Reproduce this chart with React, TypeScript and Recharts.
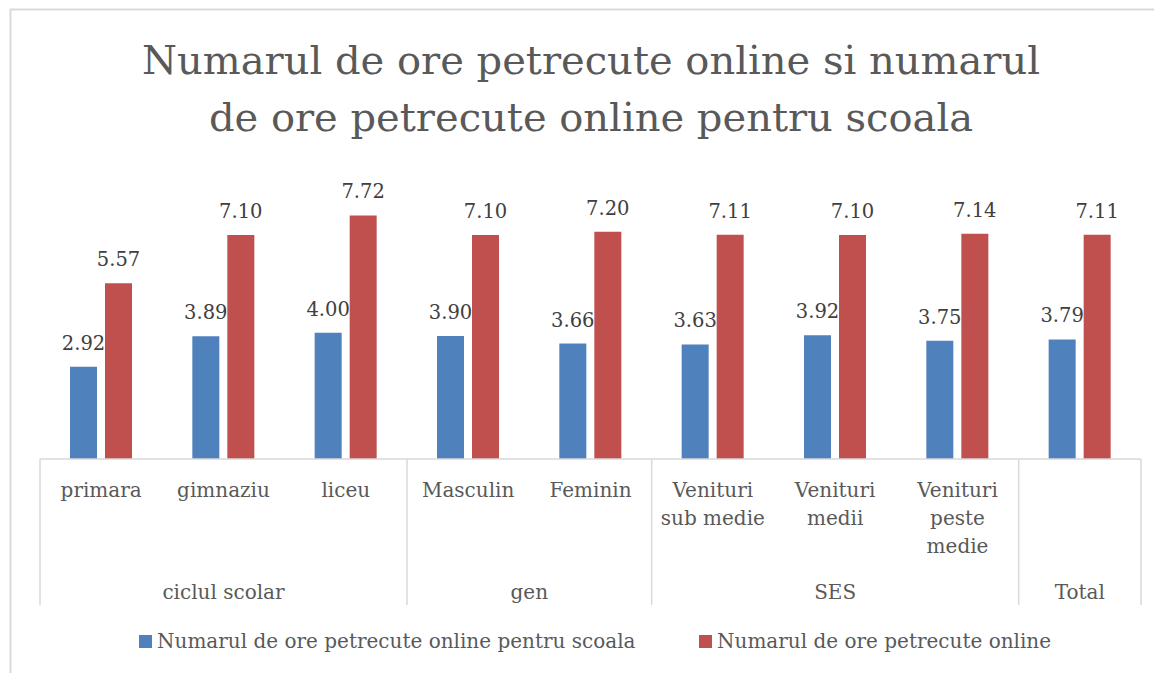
import React from "react"
import { BarChart, Bar, XAxis, YAxis, LabelList } from "recharts"

// categorii (nivelul 1), fiecare pe mai multe randuri
const categorii = [
  "primara",
  "gimnaziu",
  "liceu",
  "Masculin",
  "Feminin",
  "Venituri|sub medie",
  "Venituri|medii",
  "Venituri|peste|medie",
  "",
]
// grupuri (nivelul 2) si cate categorii contin
const grupuri = ["ciclul scolar", "gen", "SES", "Total"]
const marimiGrupuri = [3, 2, 3, 1]

const oreScoala = [2.92, 3.89, 4.0, 3.9, 3.66, 3.63, 3.92, 3.75, 3.79]
const oreOnline = [5.57, 7.1, 7.72, 7.1, 7.2, 7.11, 7.1, 7.14, 7.11]

const serii = [
  "Numarul de ore petrecute online pentru scoala",
  "Numarul de ore petrecute online",
]

const W = 1154
const H = 673
const MARGINE = { top: 175, right: 13, left: 40, bottom: 68 }
const INALT_CAT = 100
const INALT_GRUP = 46
const LATIME_BANDA = (W - MARGINE.left - MARGINE.right) / categorii.length

const FONT = "'DejaVu Serif', serif"
const GRI = "#595959"
const LINIE = "#d9d9d9"
const ALBASTRU = "#4F81BD"
const ROSU = "#C0504D"

const date = categorii.map((c, i) => ({
  cat: String(i),
  eticheta: c,
  scoala: oreScoala[i],
  online: oreOnline[i],
}))

// inceputul fiecarui grup
const starturi: number[] = []
marimiGrupuri.reduce((acc, m) => {
  starturi.push(acc)
  return acc + m
}, 0)

const TickCategorie = (props: any) => {
  const { x, y, payload } = props
  const idx = Number(payload.value)
  const linii = categorii[idx] ? categorii[idx].split("|") : []
  return (
    <g>
      {linii.map((l, k) => (
        <text
          key={k}
          x={x}
          y={y + 38 + k * 28}
          textAnchor="middle"
          fontFamily={FONT}
          fontSize={20}
          fill={GRI}
        >
          {l}
        </text>
      ))}
    </g>
  )
}

const TickGrup = (props: any) => {
  const { x, y, payload } = props
  const idx = Number(payload.value)
  const g = starturi.indexOf(idx)
  const sus = y - INALT_CAT
  const jos = y + INALT_GRUP
  const ultim = idx === categorii.length - 1
  return (
    <g>
      {g >= 0 && (
        <>
          <line x1={x - LATIME_BANDA / 2} x2={x - LATIME_BANDA / 2} y1={sus} y2={jos} stroke={LINIE} strokeWidth={1.5} />
          <text
            x={x + ((marimiGrupuri[g] - 1) * LATIME_BANDA) / 2}
            y={y + 40}
            textAnchor="middle"
            fontFamily={FONT}
            fontSize={20}
            fill={GRI}
          >
            {grupuri[g]}
          </text>
        </>
      )}
      {ultim && (
        <line x1={x + LATIME_BANDA / 2} x2={x + LATIME_BANDA / 2} y1={sus} y2={jos} stroke={LINIE} strokeWidth={1.5} />
      )}
    </g>
  )
}

const formatare = (v: any) => Number(v).toFixed(2)

export default function App() {
  return (
    <div style={{ position: "absolute", left: 0, top: 0, width: W, height: H, background: "#fff" }}>
      <BarChart width={W} height={H} data={date} margin={MARGINE} barSize={27} barGap={8}>
        <YAxis hide domain={[0, 9]} />
        <XAxis
          xAxisId={0}
          dataKey="cat"
          height={INALT_CAT}
          interval={0}
          tickSize={0}
          tickMargin={0}
          tickLine={false}
          axisLine={{ stroke: LINIE, strokeWidth: 1.5 }}
          tick={<TickCategorie />}
        />
        <XAxis
          xAxisId={1}
          dataKey="cat"
          height={INALT_GRUP}
          interval={0}
          tickSize={0}
          tickMargin={0}
          tickLine={false}
          axisLine={false}
          tick={<TickGrup />}
        />
        <Bar dataKey="scoala" fill={ALBASTRU} isAnimationActive={false}>
          <LabelList dataKey="scoala" position="top" offset={17} formatter={formatare} fontFamily={FONT} fontSize={19.5} fill="#404040" />
        </Bar>
        <Bar dataKey="online" fill={ROSU} isAnimationActive={false}>
          <LabelList dataKey="online" position="top" offset={17} formatter={formatare} fontFamily={FONT} fontSize={19.5} fill="#404040" />
        </Bar>
      </BarChart>
      <svg width={W} height={H} style={{ position: "absolute", left: 0, top: 0, pointerEvents: "none" }}>
        <path d={`M10.5 ${H} L10.5 9.5 L${W} 9.5`} fill="none" stroke={LINIE} strokeWidth={2} />
        <text x={591} y={74} textAnchor="middle" fontFamily={FONT} fontSize={40} fill={GRI}>
          Numarul de ore petrecute online si numarul
        </text>
        <text x={591} y={131} textAnchor="middle" fontFamily={FONT} fontSize={40} fill={GRI}>
          de ore petrecute online pentru scoala
        </text>
        <rect x={139} y={635} width={13} height={13} fill={ALBASTRU} />
        <text x={157} y={648} fontFamily={FONT} fontSize={20} fill={GRI}>
          {serii[0]}
        </text>
        <rect x={699} y={635} width={13} height={13} fill={ROSU} />
        <text x={717} y={648} fontFamily={FONT} fontSize={20} fill={GRI}>
          {serii[1]}
        </text>
      </svg>
    </div>
  )
}
